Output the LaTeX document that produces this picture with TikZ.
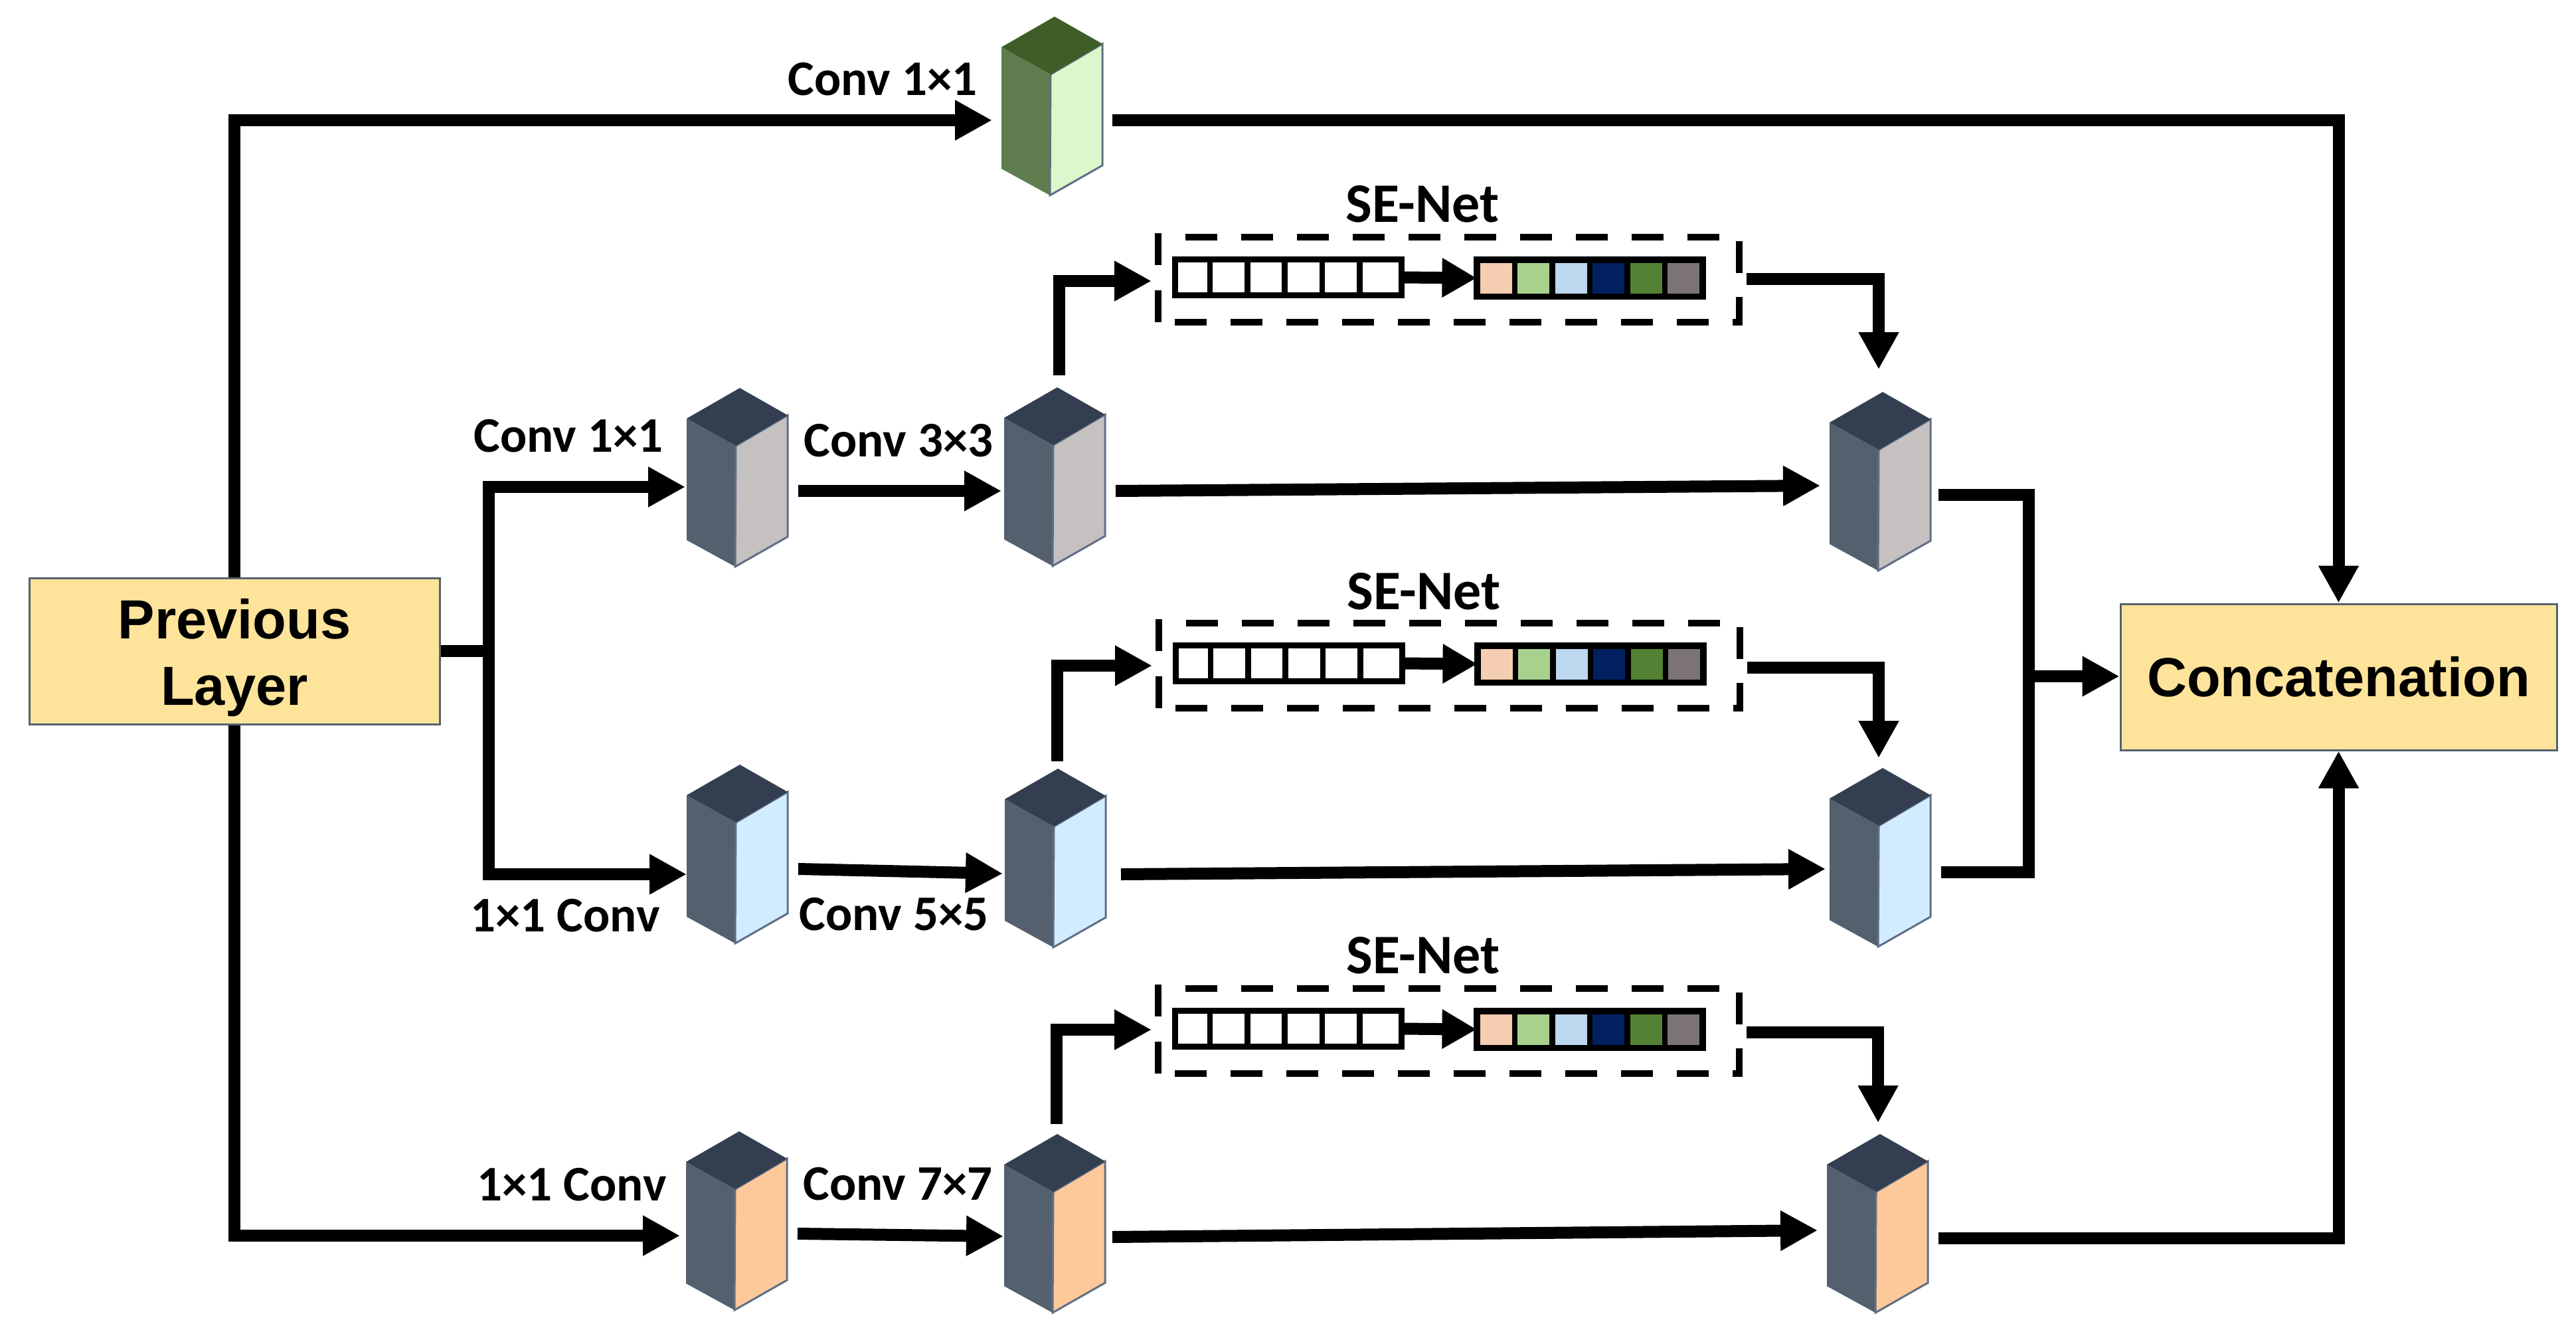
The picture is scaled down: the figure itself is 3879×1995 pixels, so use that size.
\documentclass[tikz,border=0pt]{standalone}
\usepackage{fontspec}
\setmainfont{Liberation Sans}
\newfontfamily\lblfont{Carlito}
\usetikzlibrary{arrows.meta,calc}
\definecolor{faceL}{HTML}{55606E}
\definecolor{faceT}{HTML}{333F50}
\definecolor{edgeC}{HTML}{5F6F85}
\definecolor{greenL}{HTML}{5F7D4E}
\definecolor{greenT}{HTML}{3F5E27}
\definecolor{greenR}{HTML}{DCF7CB}
\definecolor{grayR}{HTML}{C5C1C0}
\definecolor{blueR}{HTML}{D2ECFF}
\definecolor{orangeR}{HTML}{FDC99A}
\definecolor{boxY}{HTML}{FEE49A}
\definecolor{boxE}{HTML}{56616F}
\definecolor{cellA}{HTML}{F5CDB0}
\definecolor{cellB}{HTML}{A9D18E}
\definecolor{cellC}{HTML}{BDD7EE}
\definecolor{cellD}{HTML}{002060}
\definecolor{cellE}{HTML}{548235}
\definecolor{cellF}{HTML}{7B7374}
\tikzset{
  conn/.style={line width=18pt,black,line cap=butt,line join=miter},
  tip/.style={-{Triangle[length=56pt,width=57pt]}},
  smalltip/.style={-{Triangle[length=52pt,width=56pt]}},
  bigbox/.style={draw=boxE,line width=3pt,fill=boxY,inner sep=0pt,font=\fontsize{83}{100}\selectfont\bfseries,align=center},
  lbl/.style={inner sep=0pt,black,font=\lblfont\fontsize{75}{90}\selectfont\bfseries},
  selbl/.style={inner sep=0pt,black,font=\lblfont\fontsize{84}{90}\selectfont\bfseries},
  ghost/.style={inner sep=0pt,outer sep=0pt,minimum width=152pt,minimum height=269pt},
  strip/.style={draw=black,line width=9pt,inner sep=0pt,outer sep=0pt,minimum width=341pt,minimum height=54pt},
  sedash/.style={draw=black,line width=10pt,line cap=butt,dash pattern=on 48pt off 36pt},
}
% name, left x, top-left y, left colour, top colour, right colour
\newcommand{\blk}[6]{%
\begin{scope}[shift={(#2,#3)}]
  \fill[#4] (0,0) -- (74,41) -- (73,223) -- (0,183) -- cycle;
  \filldraw[fill=#6,draw=edgeC,line width=3pt] (74,41) -- (152,-5) -- (152,178) -- (73,223) -- cycle;
  \fill[#5] (0,0) -- (80,-46) -- (152,-5) -- (74,41) -- cycle;
  \node[ghost] (#1) at (76,88.5) {};
\end{scope}}
% index, dx, dy
\newcommand{\sebox}[3]{%
\begin{scope}[shift={(#2,#3)}]
  \node[inner sep=0pt,outer sep=0pt,minimum width=875pt,minimum height=128pt] (se#1) at (2181.5,421) {};
  \node[strip,fill=white] (w#1) at (1940,417.5) {};
  \foreach \k in {1,...,5} \draw[line width=8.5pt,black] (1765+4.5+56.4*\k-4,386) -- (1765+4.5+56.4*\k-4,449);
  \node[strip,fill=black,minimum height=56pt] (cs#1) at (2394,418.5) {};
  \foreach \k/\cc in {0/cellA,1/cellB,2/cellC,3/cellD,4/cellE,5/cellF}
    \fill[\cc] (2229+56.4*\k,396) rectangle (2277+56.4*\k,442);
  \draw[sedash] ([xshift=41pt]se#1.north west) -- (se#1.north east) -- (se#1.south east) -- (se#1.south west);
  \draw[line width=10pt,black,dash pattern=on 48pt off 38pt] (se#1.south west) -- ([yshift=6pt]se#1.north west);
  \draw[conn,smalltip] (w#1.east) -- (cs#1.west);
\end{scope}}
\begin{document}
\begin{tikzpicture}[x=1pt,y=-1pt]
\useasboundingbox (0,0) rectangle (3879,1995);
\fill[white] (0,0) rectangle (3879,1995);

\blk{g}{1508}{71}{greenL}{greenT}{greenR}
\blk{a1}{1034}{630}{faceL}{faceT}{grayR}
\blk{b1}{1512}{629}{faceL}{faceT}{grayR}
\blk{c1}{2755}{636}{faceL}{faceT}{grayR}
\blk{a2}{1034}{1197}{faceL}{faceT}{blueR}
\blk{b2}{1513}{1203}{faceL}{faceT}{blueR}
\blk{c2}{2755}{1202}{faceL}{faceT}{blueR}
\blk{a3}{1033}{1749}{faceL}{faceT}{orangeR}
\blk{b3}{1512}{1753}{faceL}{faceT}{orangeR}
\blk{c3}{2751}{1753}{faceL}{faceT}{orangeR}

\sebox{1}{0}{0}
\sebox{2}{1}{581}
\sebox{3}{0}{1131}

\node[bigbox,minimum width=618pt,minimum height=220pt] (prev) at (353,980) {\rule{0pt}{80pt}Previous\\Layer};
\node[bigbox,minimum width=657pt,minimum height=220pt] (concat) at (3521.5,1019) {Concatenation};

\coordinate (j1) at (736,980);
\coordinate (j2) at (3055,1018);

% top path
\draw[conn,tip] (prev.north) |- ($(g.west |- 0,181)+(-14,0)$);
\draw[conn,tip] ($(g.east |- 0,181)+(15,0)$) -| (concat.north);
% bottom path
\draw[conn,tip] (prev.south) |- ($(a3.west |- 0,1860)+(-9,0)$);
\draw[conn,tip] ($(c3.east |- 0,1864)+(16,0)$) -| (concat.south);
% junction
\draw[conn] (prev.east) -- (j1);
\draw[conn,tip] (j1) |- ($(a1.west |- 0,733)+(-2,0)$);
\draw[conn,tip] (j1) |- (a2.west |- 0,1316);
% a to b
\draw[conn,tip] ($(a1.east |- 0,739)+(16,0)$) -- ($(b1.west |- 0,739)+(-4,0)$);
\draw[conn,tip] ($(a2.east |- 0,1308)+(16,0)$) -- ($(b2.west |- 0,1315)+(-3,0)$);
\draw[conn,tip] ($(a3.east |- 0,1857)+(16,0)$) -- ($(b3.west |- 0,1861)+(-1,0)$);
% b to c
\draw[conn,tip] ($(b1.east |- 0,739)+(16,0)$) -- ($(c1.west |- 0,731)+(-14,0)$);
\draw[conn,tip] ($(b2.east |- 0,1316)+(23,0)$) -- ($(c2.west |- 0,1308)+(-6,0)$);
\draw[conn,tip] ($(b3.east |- 0,1862)+(11,0)$) -- ($(c3.west |- 0,1852)+(-14,0)$);
% b to SE
\draw[conn,tip] ($(b1.north |- 0,565)+(7,0)$) |- ($(se1.west |- 0,423)+(-10,0)$);
\draw[conn,tip] ($(b2.north |- 0,1146)+(3,0)$) |- ($(se2.west |- 0,1002)+(-10,0)$);
\draw[conn,tip] ($(b3.north |- 0,1692)+(3,0)$) |- ($(se3.west |- 0,1550)+(-10,0)$);
% SE to c
\draw[conn,tip] ($(se1.east |- 0,420)+(11,0)$) -| ($(c1.north |- 0,556)+(-2,0)$);
\draw[conn,tip] ($(se2.east |- 0,1005)+(11,0)$) -| ($(c2.north |- 0,1141)+(-2,0)$);
\draw[conn,tip] ($(se3.east |- 0,1554)+(11,0)$) -| ($(c3.north |- 0,1690)+(1,0)$);
% merge
\draw[conn] ($(c1.east |- 0,745)+(12,0)$) -| (j2);
\draw[conn] ($(c2.east |- 0,1313)+(16,0)$) -| (j2);
\draw[conn,tip] (j2) -- (concat.west |- j2);

% labels
\node[lbl] (t0) at (1329,119) {Conv 1×1};
\node[lbl] (t1) at (856,656) {Conv 1×1};
\node[lbl] (t2) at (1353,663) {Conv 3×3};
\node[lbl] (t3) at (851,1378) {1×1 Conv};
\node[lbl] (t4) at (1346,1376) {Conv 5×5};
\node[lbl] (t5) at (861,1783) {1×1 Conv};
\node[lbl] (t6) at (1352,1782) {Conv 7×7};
\node[selbl] (s1) at (2142,307) {SE-Net};
\node[selbl] (s2) at (2144,890) {SE-Net};
\node[selbl] (s3) at (2143,1438) {SE-Net};
\end{tikzpicture}
\end{document}
